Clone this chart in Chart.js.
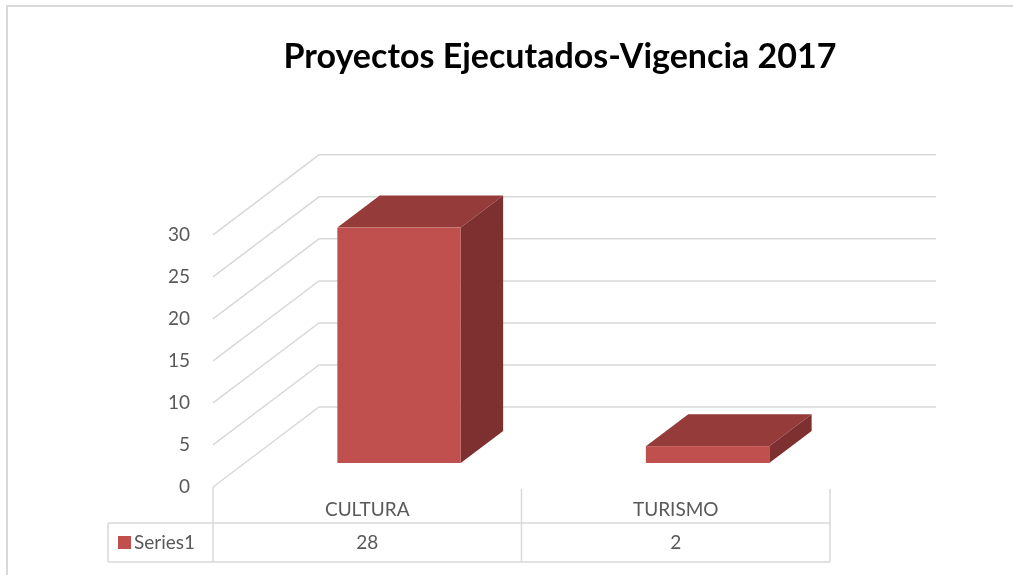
<!DOCTYPE html>
<html lang="es">
<head>
    <meta charset="UTF-8">
    <title>Proyectos Ejecutados-Vigencia 2017</title>
    <script src="https://cdn.jsdelivr.net/npm/chart.js"></script>
    <style>
        html, body { margin: 0; padding: 0; background: #fff; }
        #wrap { width: 1013px; height: 575px; }
    </style>
</head>
<body>
    <div id="wrap"><canvas id="projChart" width="1013" height="575"></canvas></div>

    <script>
    // datos
    const categories = ['CULTURA', 'TURISMO'];
    const seriesName = 'Series1';
    const values = [28, 2];
    const yTicks = [0, 5, 10, 15, 20, 25, 30];

    const FONT = "'Lato', 'Open Sans', sans-serif";
    const GRID = '#d9d9d9';
    const TXT = '#595959';

    // profundidad del efecto 3D (desplazamiento de la pared del fondo)
    const DX = 106, DY = -80;
    const F1 = 0.3, F2 = 0.7;

    const frame3d = {
        id: 'frame3d',
        beforeDraw(chart) {
            const ctx = chart.ctx;
            ctx.save();
            ctx.strokeStyle = GRID;
            ctx.lineWidth = 2;
            ctx.strokeRect(7, 6, 1020, 590);
            ctx.restore();
        },
        beforeDatasetsDraw(chart) {
            const ctx = chart.ctx;
            const y = chart.scales.y;
            const { left, right } = chart.chartArea;
            ctx.save();
            ctx.strokeStyle = GRID;
            ctx.lineWidth = 1.5;
            y.ticks.forEach(t => {
                const py = y.getPixelForValue(t.value);
                ctx.beginPath();
                ctx.moveTo(left, py);
                ctx.lineTo(left + DX, py + DY);
                ctx.lineTo(right + DX, py + DY);
                ctx.stroke();
            });
            ctx.restore();
        },
        afterDatasetsDraw(chart) {
            const ctx = chart.ctx;
            const meta = chart.getDatasetMeta(0);
            const ox1 = F1 * DX, oy1 = F1 * DY, ox2 = F2 * DX, oy2 = F2 * DY;
            ctx.save();
            meta.data.forEach(bar => {
                const { x, y, base, width } = bar.getProps(['x', 'y', 'base', 'width'], true);
                const l = x - width / 2, r = x + width / 2;
                // cara superior
                ctx.fillStyle = '#953b39';
                ctx.beginPath();
                ctx.moveTo(l + ox1, y + oy1);
                ctx.lineTo(r + ox1, y + oy1);
                ctx.lineTo(r + ox2, y + oy2);
                ctx.lineTo(l + ox2, y + oy2);
                ctx.closePath();
                ctx.fill();
                // lateral
                ctx.fillStyle = '#7d302f';
                ctx.beginPath();
                ctx.moveTo(r + ox1, y + oy1);
                ctx.lineTo(r + ox2, y + oy2);
                ctx.lineTo(r + ox2, base + oy2);
                ctx.lineTo(r + ox1, base + oy1);
                ctx.closePath();
                ctx.fill();
                // frente
                ctx.fillStyle = '#c0504d';
                ctx.fillRect(l + ox1, y + oy1, width, base - y);
            });
            ctx.restore();
        },
        afterDraw(chart) {
            const ctx = chart.ctx;
            const xs = chart.scales.x;
            const { left, right, bottom } = chart.chartArea;
            const rowTop = 523, rowBot = 562, tableLeft = 108;
            ctx.save();
            ctx.strokeStyle = GRID;
            ctx.lineWidth = 1.5;
            ctx.beginPath();
            ctx.moveTo(tableLeft, rowTop); ctx.lineTo(right, rowTop);
            ctx.moveTo(tableLeft, rowBot); ctx.lineTo(right, rowBot);
            ctx.moveTo(tableLeft, rowTop); ctx.lineTo(tableLeft, rowBot);
            ctx.moveTo(left, bottom); ctx.lineTo(left, rowBot);
            const step = (right - left) / categories.length;
            categories.forEach((c, i) => {
                const xr = xs.getPixelForValue(i) + step / 2;
                ctx.moveTo(xr, bottom + 2); ctx.lineTo(xr, rowBot);
            });
            ctx.stroke();

            // clave de la serie
            ctx.fillStyle = '#c0504d';
            ctx.fillRect(118, 536, 13, 13);
            ctx.fillStyle = TXT;
            ctx.font = '19px ' + FONT;
            ctx.textBaseline = 'middle';
            ctx.textAlign = 'left';
            ctx.fillText(seriesName, 134, 543);
            ctx.textAlign = 'center';
            values.forEach((v, i) => {
                ctx.fillText(String(v), xs.getPixelForValue(i), 543);
            });
            ctx.restore();
        }
    };

    document.addEventListener('DOMContentLoaded', () => {
        const ctx = document.getElementById('projChart').getContext('2d');
        new Chart(ctx, {
            type: 'bar',
            data: {
                labels: categories,
                datasets: [{
                    label: seriesName,
                    data: values,
                    backgroundColor: 'rgba(0,0,0,0)',
                    categoryPercentage: 1,
                    barPercentage: 0.4
                }]
            },
            options: {
                responsive: false,
                animation: false,
                layout: { padding: { left: 107, right: 0, top: 0, bottom: 0 } },
                plugins: {
                    legend: { display: false },
                    tooltip: { enabled: false },
                    title: {
                        display: true,
                        text: 'Proyectos Ejecutados-Vigencia 2017',
                        color: '#000',
                        font: { family: FONT, size: 34, weight: 'bold', lineHeight: 1.2 },
                        padding: { top: 37, bottom: 157 }
                    }
                },
                scales: {
                    x: {
                        grid: { display: false, drawTicks: false },
                        border: { display: false },
                        ticks: { color: TXT, font: { family: FONT, size: 19 }, padding: 11 },
                        afterFit: s => { s.height = 88; }
                    },
                    y: {
                        min: 0,
                        max: 30,
                        grid: { display: false, drawTicks: false },
                        border: { display: false },
                        afterBuildTicks: s => { s.ticks = yTicks.map(v => ({ value: v })); },
                        ticks: { color: TXT, font: { family: FONT, size: 19 }, padding: 23 },
                        afterFit: s => { s.width = 106; }
                    },
                    // eje vacío a la derecha: reserva el espacio de la pared del fondo
                    yRight: {
                        position: 'right',
                        min: 0,
                        max: 30,
                        grid: { display: false, drawTicks: false },
                        border: { display: false },
                        ticks: { display: false },
                        afterFit: s => { s.width = 183; }
                    }
                }
            },
            plugins: [frame3d]
        });
    });
    </script>
</body>
</html>
